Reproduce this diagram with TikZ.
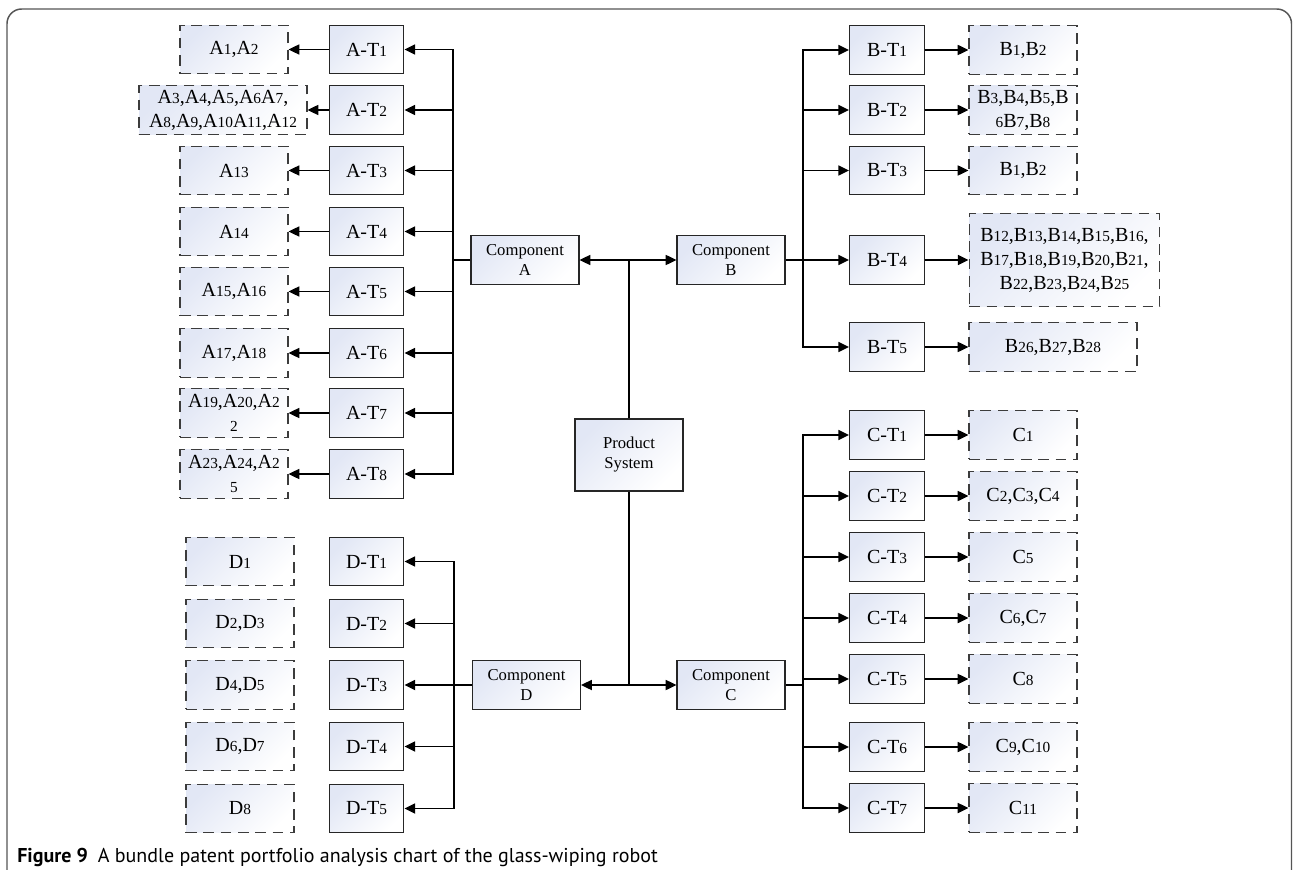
\documentclass[tikz,border=0pt]{standalone}
\usepackage{fontspec}
\setmainfont{Liberation Serif}
\newfontfamily\capfont{PT Sans}
\usepackage{tikz}
\usetikzlibrary{arrows.meta,positioning}
\definecolor{boxblue}{RGB}{226,231,245}
\definecolor{dashgray}{RGB}{60,60,60}
\definecolor{framegray}{RGB}{85,85,85}
\newcommand{\nsub}[1]{{\fontsize{11.5}{12}\selectfont #1}}

\begin{document}
\begin{tikzpicture}[x=0.75pt,y=-0.75pt,
		tbox/.style={draw=black!85,line width=0.9pt,left color=boxblue,right color=white,shading angle=45,
			minimum width=56pt,minimum height=36.5pt,inner sep=1pt,font=\fontsize{15}{18}\selectfont},
		pbox/.style={tbox,draw=dashgray,dash pattern=on 8pt off 5pt,minimum width=81pt,align=center},
		cbox/.style={tbox,minimum width=81pt,minimum height=37pt,align=center,font=\fontsize{12.5}{15}\selectfont},
		arr/.style={-{Triangle[length=8pt,width=7.5pt]},line width=1.3pt},
		dbl/.style={{Triangle[length=8pt,width=7.5pt]}-{Triangle[length=8pt,width=7.5pt]},line width=1.3pt},
		bus/.style={line width=1.3pt}]
	\useasboundingbox (0,0) rectangle (1293,870);
	\draw[framegray,line width=1.1pt,rounded corners=11pt] (7,900) -- (7,9) -- (1291.5,9) -- (1291.5,900);

	% centre
	\node[cbox,minimum height=54pt] (prod) at (629,455) {Product\\System};
	\node[cbox] (compA) at (525,260) {Component\\A};
	\node[cbox] (compB) at (731,260) {Component\\B};
	\node[cbox] (compD) at (526.5,685) {Component\\D};
	\node[cbox] (compC) at (731,685) {Component\\C};
	\draw[bus] (prod.north) -- (prod.north |- compA);
	\draw[bus] (prod.south) -- (prod.south |- compD);
	\draw[dbl] (compA.east) -- (compB.west);
	\draw[dbl] (compD.east) -- (compC.west);
	\coordinate (busA) at (453,260);
	\coordinate (busB) at (803,260);
	\coordinate (busC) at (803,685);
	\coordinate (busD) at (454,685);

	% component A
	\foreach \i/\y in {1/49.5,2/110,3/170.5,4/231.5,5/291.5,6/353,7/413,8/474}
		\node[tbox] (aT\i) at (366.5,\y) {A-T\nsub{\i}};
	\foreach \i/\lab in {1/{A\nsub{1},A\nsub{2}},3/{A\nsub{13}},4/{A\nsub{14}},5/{A\nsub{15},A\nsub{16}},6/{A\nsub{17},A\nsub{18}},
			7/{A\nsub{19},A\nsub{20},A\nsub{2}\\\nsub{2}},8/{A\nsub{23},A\nsub{24},A\nsub{2}\\\nsub{5}}}
		\node[pbox] (aP\i) at (234,0 |- aT\i) {\lab};
	\node[pbox,minimum width=126pt] (aP2) at (223,0 |- aT2)
		{A\nsub{3},A\nsub{4},A\nsub{5},A\nsub{6}A\nsub{7},\\A\nsub{8},A\nsub{9},A\nsub{10}A\nsub{11},A\nsub{12}};
	\draw[dbl] (aT1.east) -| (busA) |- (aT8.east);
	\draw[bus] (compA.west) -- (busA);
	\foreach \i in {2,...,7}
		\draw[arr] (aT\i.east -| busA) -- (aT\i.east);
	\foreach \i in {1,...,8}
		\draw[arr] (aT\i.west) -- (aP\i.east);

	% component B
	\foreach \i/\y in {1/50,2/110,3/170.5,4/260,5/347}
		\node[tbox] (bT\i) at (887,\y) {B-T\nsub{\i}};
	\node[pbox] (bP1) at (1023,0 |- bT1) {B\nsub{1},B\nsub{2}};
	\node[pbox] (bP2) at (1023,0 |- bT2) {B\nsub{3},B\nsub{4},B\nsub{5},B\\\nsub{6}B\nsub{7},B\nsub{8}};
	\node[pbox] (bP3) at (1023,0 |- bT3) {B\nsub{1},B\nsub{2}};
	\node[pbox,minimum width=143pt,minimum height=70pt] (bP4) at (1064.5,0 |- bT4)
		{B\nsub{12},B\nsub{13},B\nsub{14},B\nsub{15},B\nsub{16},\\B\nsub{17},B\nsub{18},B\nsub{19},B\nsub{20},B\nsub{21},\\B\nsub{22},B\nsub{23},B\nsub{24},B\nsub{25}};
	\node[pbox,minimum width=126pt] (bP5) at (1053,0 |- bT5) {B\nsub{26},B\nsub{27},B\nsub{28}};
	\draw[dbl] (bT1.west) -| (busB) |- (bT5.west);
	\draw[arr] (compB.east) -- (bT4.west);
	\foreach \i in {2,3}
		\draw[arr] (bT\i.west -| busB) -- (bT\i.west);
	\foreach \i in {1,...,5}
		\draw[arr] (bT\i.east) -- (bP\i.west);

	% component C
	\foreach \i/\y/\lab in {1/435/{C\nsub{1}},2/496/{C\nsub{2},C\nsub{3},C\nsub{4}},3/557/{C\nsub{5}},4/618/{C\nsub{6},C\nsub{7}},
			5/679/{C\nsub{8}},6/747/{C\nsub{9},C\nsub{10}},7/808/{C\nsub{11}}}{
		\node[tbox] (cT\i) at (887,\y) {C-T\nsub{\i}};
		\node[pbox] (cP\i) at (1023,\y) {\lab};
		\draw[arr] (cT\i.east) -- (cP\i.west);
	}
	\draw[dbl] (cT1.west) -| (busC) |- (cT7.west);
	\draw[bus] (compC.east) -- (busC);
	\foreach \i in {2,...,6}
		\draw[arr] (cT\i.west -| busC) -- (cT\i.west);

	% component D
	\foreach \i/\y/\lab in {1/561.5/{D\nsub{1}},2/623.5/{D\nsub{2},D\nsub{3}},3/685/{D\nsub{4},D\nsub{5}},4/746.5/{D\nsub{6},D\nsub{7}},5/808.5/{D\nsub{8}}}{
		\node[tbox] (dT\i) at (366.5,\y) {D-T\nsub{\i}};
		\node[pbox] (dP\i) at (240,\y) {\lab};
	}
	\draw[dbl] (dT1.east) -| (busD) |- (dT5.east);
	\draw[bus] (compD.west) -- (busD);
	\foreach \i in {2,3,4}
		\draw[arr] (dT\i.east -| busD) -- (dT\i.east);

	\node[anchor=base west,inner sep=0pt] (cap) at (17,862)
		{\capfont\fontsize{15}{17}\selectfont\textbf{Figure 9}\hspace{0.5em}A bundle patent portfolio analysis chart of the glass-wiping robot};
\end{tikzpicture}
\end{document}
